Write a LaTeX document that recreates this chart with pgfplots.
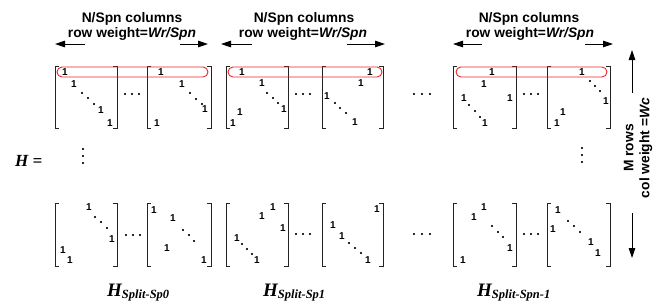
\documentclass[border=0pt]{standalone}
\usepackage{fontspec}
\setmainfont{Liberation Sans}
\newfontfamily\tms{Liberation Serif}
\usepackage{pgfplots}
\pgfplotsset{compat=1.18}
\usetikzlibrary{arrows.meta}
\definecolor{ovalred}{RGB}{232,36,40}
\definecolor{brkc}{RGB}{35,35,35}
\begin{document}
\begin{tikzpicture}[lbl/.style={font=\fontsize{13.8}{16}\selectfont\bfseries},
  hl/.style={anchor=base west,inner sep=0pt,font=\tms\bfseries\itshape}]
\begin{axis}[x=1pt,y=-1pt,xmin=0,xmax=661,ymin=0,ymax=306,hide axis,clip=false,
  bracket/.style={brkc,line width=0.8pt,mark=none},
  oval/.style={ovalred,line width=0.9pt,rounded corners=5pt,mark=none},
  entry/.style={draw=none,mark=none,nodes near coords={1},nodes near coords align={center},
     every node near coord/.append style={inner sep=0pt,font=\fontsize{10}{10}\selectfont\bfseries}},
  dotm/.style={only marks,mark=*,mark size=0.95pt,black},
  arr/.style={black,line width=0.8pt,mark=none,-{Triangle[length=10pt,width=6.5pt]}}]
\addplot[draw=none,mark=none] coordinates {(0,0)(661,306)};
% ---- brackets top row
\addplot[bracket] coordinates {(59,66)(55,66)(55,128)(59,128)};
\addplot[bracket] coordinates {(113,66)(117,66)(117,128)(113,128)};
\addplot[bracket] coordinates {(151,66)(147,66)(147,128)(151,128)};
\addplot[bracket] coordinates {(207,66)(211,66)(211,128)(207,128)};
\addplot[bracket] coordinates {(230,66)(226,66)(226,128)(230,128)};
\addplot[bracket] coordinates {(284,66)(288,66)(288,128)(284,128)};
\addplot[bracket] coordinates {(326,66)(322,66)(322,128)(326,128)};
\addplot[bracket] coordinates {(379,66)(383,66)(383,128)(379,128)};
\addplot[bracket] coordinates {(457,66)(453,66)(453,128)(457,128)};
\addplot[bracket] coordinates {(512,66)(516,66)(516,128)(512,128)};
\addplot[bracket] coordinates {(551,66)(547,66)(547,128)(551,128)};
\addplot[bracket] coordinates {(606,66)(610,66)(610,128)(606,128)};
% ---- brackets bottom row
\addplot[bracket] coordinates {(59,203)(55,203)(55,266)(59,266)};
\addplot[bracket] coordinates {(113,203)(117,203)(117,266)(113,266)};
\addplot[bracket] coordinates {(151,203)(147,203)(147,266)(151,266)};
\addplot[bracket] coordinates {(207,203)(211,203)(211,266)(207,266)};
\addplot[bracket] coordinates {(230,203)(226,203)(226,266)(230,266)};
\addplot[bracket] coordinates {(284,203)(288,203)(288,266)(284,266)};
\addplot[bracket] coordinates {(326,203)(322,203)(322,266)(326,266)};
\addplot[bracket] coordinates {(379,203)(383,203)(383,266)(379,266)};
\addplot[bracket] coordinates {(457,203)(453,203)(453,266)(457,266)};
\addplot[bracket] coordinates {(512,203)(516,203)(516,266)(512,266)};
\addplot[bracket] coordinates {(551,203)(547,203)(547,266)(551,266)};
\addplot[bracket] coordinates {(606,203)(610,203)(610,266)(606,266)};
% ---- red ovals
\addplot[oval] coordinates {(130,67)(208,67)(208,77)(57,77)(57,67)(130,67)};
\addplot[oval] coordinates {(300,67)(382,67)(382,77)(228,77)(228,67)(300,67)};
\addplot[oval] coordinates {(530,67)(607,67)(607,77)(456,77)(456,67)(530,67)};
% ---- entries top row
\addplot[entry] coordinates {(65,72)(74,84)(101,110)(110,123)};
\addplot[entry] coordinates {(161,72)(182,84)(205,109)(157,123)};
\addplot[entry] coordinates {(242,72)(262,83)(284,109)(240,112)(233,123)};
\addplot[entry] coordinates {(370,72)(361,83)(327,96)(355,122)};
\addplot[entry] coordinates {(492,72)(484,84)(464,98)(510,98)(485,123)};
\addplot[entry] coordinates {(582,72)(606,101)(563,112)(557,123)};
% ---- entries bottom row
\addplot[entry] coordinates {(89,207)(112,239)(63,250)(70,260)};
\addplot[entry] coordinates {(154,210)(173,218)(167,248)(204,260)};
\addplot[entry] coordinates {(273,207)(262,216)(283,228)(237,238)(257,260)};
\addplot[entry] coordinates {(377,209)(333,225)(342,236)(368,260)};
\addplot[entry] coordinates {(484,207)(474,217)(510,248)(463,260)};
\addplot[entry] coordinates {(558,210)(553,229)(591,242)(598,253)};
% ---- diagonal dots
\addplot[dotm] coordinates {(82,93)(88,98)(94,104)
  (190,93)(196,99)(202,104)
  (267,93)(273,98)(278,103)
  (335,103)(340,108)(346,113)
  (469,105)(475,111)(480,117)
  (590,81)(595,86)(600,91)
  (95,217)(101,222)(107,228)
  (183,230)(189,235)(194,241)
  (242,244)(247,249)(252,254)
  (349,243)(355,248)(361,253)
  (492,226)(498,232)(503,237)
  (568,221)(574,226)(580,232)};
% ---- horizontal dots
\addplot[dotm] coordinates {(125,94)(132,94)(139,94)(296,94)(303,94)(310,94)
  (414,94)(422,94)(430,94)(524,94)(531,94)(538,94)
  (126,235)(133,235)(140,235)(296,234)(303,234)(310,234)
  (414,234)(422,234)(430,234)(524,234)(531,234)(538,234)};
% ---- vertical dots
\addplot[dotm] coordinates {(83,149)(83,156)(83,163)(582,148)(582,155)(582,162)};
% ---- arrows
\addplot[arr] coordinates {(85,44)(55,44)};
\addplot[arr] coordinates {(180,44)(208,44)};
\addplot[arr] coordinates {(252,44)(221,44)};
\addplot[arr] coordinates {(347,44)(385,44)};
\addplot[arr] coordinates {(482,44)(453,44)};
\addplot[arr] coordinates {(585,44)(613,44)};
\addplot[arr] coordinates {(632,93)(632,50)};
\addplot[arr] coordinates {(632,213)(632,258)};
% ---- texts
\node[lbl,anchor=base] at (axis cs:132,22) {N/Spn columns};
\node[lbl,anchor=base] at (axis cs:132,37) {row weight=\textit{Wr/Spn}};
\node[lbl,anchor=base] at (axis cs:304,22) {N/Spn columns};
\node[lbl,anchor=base] at (axis cs:303,37) {row weight=\textit{Wr/Spn}};
\node[lbl,anchor=base] at (axis cs:529,22) {N/Spn columns};
\node[lbl,anchor=base] at (axis cs:530,37) {row weight=\textit{Wr/Spn}};
\node[lbl,rotate=90,align=center] at (axis cs:638,148) {M rows\\col weight =\textit{Wc}};
\node[hl] at (axis cs:15,166) {\fontsize{17}{17}\selectfont H =};
\node[hl] at (axis cs:107,296) {\fontsize{19}{19}\selectfont H\fontsize{12.5}{12.5}\selectfont\raisebox{-2.5pt}{Split-Sp0}};
\node[hl] at (axis cs:263,296) {\fontsize{19}{19}\selectfont H\fontsize{12.5}{12.5}\selectfont\raisebox{-2.5pt}{Split-Sp1}};
\node[hl] at (axis cs:477,296) {\fontsize{19}{19}\selectfont H\fontsize{12.5}{12.5}\selectfont\raisebox{-2.5pt}{Split-Spn-1}};
\end{axis}
\end{tikzpicture}
\end{document}
